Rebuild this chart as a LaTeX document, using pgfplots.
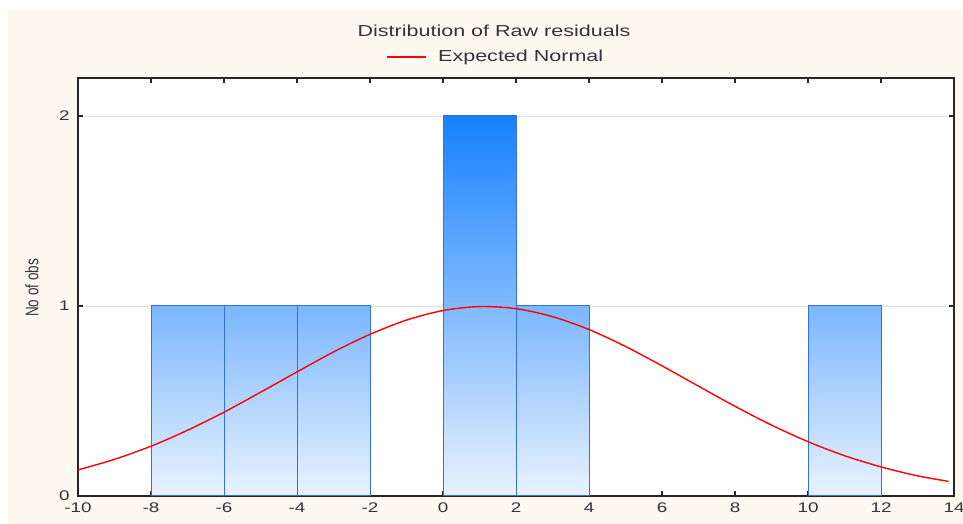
\documentclass[border=0pt]{standalone}
\usepackage{fontspec}
\setmainfont{Liberation Sans}[FakeStretch=1.35]
\newfontfamily\plainfont{Liberation Sans}
\usepackage{pgfplots}
\pgfplotsset{compat=1.18}
\definecolor{cream}{RGB}{253,249,240}
\definecolor{txt}{RGB}{50,52,62}
\definecolor{bartop}{RGB}{22,128,255}
\definecolor{barmid}{RGB}{122,182,255}
\definecolor{barbot}{RGB}{234,243,255}
\definecolor{baredge}{RGB}{52,112,222}
\begin{document}
\begin{tikzpicture}[x=1bp,y=1bp]
\fill[white] (0,0) rectangle (963,524);
\fill[cream] (8,0) rectangle (963,514);
\useasboundingbox (0,0) rectangle (963,524);
\node[font=\fontsize{16}{16}\selectfont, text=txt] at (494,493) {Distribution of Raw residuals};
\draw[red, line width=1.4pt] (387,467) -- (426,467);
\node[anchor=west, font=\fontsize{16}{16}\selectfont, text=txt, inner sep=0pt] at (438,467) {Expected Normal};
\node[rotate=90, font=\plainfont\fontsize{13.5}{13.5}\selectfont, text=txt] at (32,236) {\scalebox{1}[1.35]{No of obs}};
\begin{axis}[
  at={(78bp,28bp)}, anchor=south west,
  scale only axis, width=876bp, height=418bp,
  xmin=-10, xmax=14, ymin=0, ymax=2.2,
  xtick={-10,-8,-6,-4,-2,0,2,4,6,8,10,12,14},
  ytick={0,1,2},
  tick align=inside,
  ymajorgrids, grid style={black!12, line width=0.9pt},
  axis line style={line width=1.5pt, black!85},
  major tick style={black!85, line width=1.2pt},
  major tick length=5bp,
  axis background/.style={fill=white},
  tick label style={font=\fontsize{14}{14}\selectfont, text=txt},
  xticklabel style={yshift=-3bp},
  yticklabel style={xshift=-5bp},
  /pgf/number format/assume math mode=true,
]
\addplot[ybar, bar width=2, bar shift=0, draw=baredge, line width=1pt,
  top color=barmid, bottom color=barbot] coordinates {(-7,1) (-5,1) (-3,1) (3,1) (11,1)};
\addplot[ybar, bar width=2, bar shift=0, draw=baredge, line width=1pt,
  top color=bartop, bottom color=barbot] coordinates {(1,2)};
\addplot[red, line width=1.4pt, smooth, no marks] coordinates {
(-10,0.137) (-9,0.193) (-8,0.262) (-7,0.346) (-6,0.441) (-5,0.546) (-4,0.653)
(-3,0.758) (-2,0.851) (-1,0.926) (0,0.976) (1,0.997) (2,0.986) (3,0.944)
(4,0.876) (5,0.787) (6,0.685) (7,0.578) (8,0.472) (9,0.373) (10,0.286)
(11,0.212) (12,0.153) (13,0.106) (13.85,0.077)};
\end{axis}
\end{tikzpicture}
\end{document}
